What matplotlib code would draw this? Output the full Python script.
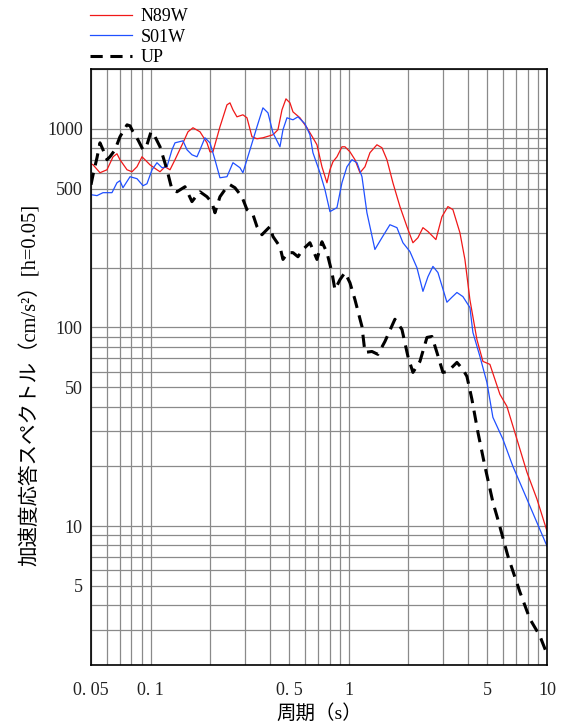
import matplotlib
matplotlib.use('Agg')
import matplotlib.pyplot as plt

plt.rcParams['font.family'] = ['Liberation Serif', 'Noto Sans CJK JP', 'DejaVu Sans']

# N89W
period_n89w = [0.050, 0.0512, 0.0555, 0.0602, 0.0646, 0.0676, 0.0700, 0.0760, 0.0805, 0.0853,
               0.0904, 0.0936, 0.0992, 0.1076, 0.1115, 0.1181, 0.1252, 0.1327, 0.1456, 0.1543,
               0.1635, 0.1774, 0.1924, 0.1992, 0.2062, 0.2237, 0.2427, 0.2513, 0.2602, 0.2725,
               0.2921, 0.3062, 0.3245, 0.3439, 0.3686, 0.4141, 0.4388, 0.4599, 0.4817, 0.5046,
               0.5225, 0.5667, 0.6148, 0.6590, 0.6905, 0.7318, 0.7755, 0.8030, 0.8316, 0.8711,
               0.9232, 0.9559, 1.013, 1.074, 1.138, 1.206, 1.278, 1.386, 1.469, 1.557,
               1.669, 1.811, 1.964, 2.106, 2.232, 2.366, 2.507, 2.751, 2.950, 3.162,
               3.351, 3.635, 3.853, 4.083, 4.429, 4.749, 5.151, 5.785, 6.275, 7.049,
               7.917, 8.894, 10.0]
acc_n89w = [667, 659, 601, 622, 723, 749, 699, 622, 608, 644,
            723, 699, 659, 622, 608, 644, 622, 699, 850, 966,
            1012, 966, 850, 766, 766, 1023, 1320, 1351, 1246, 1149,
            1176, 1136, 912, 891, 901, 933, 989, 1246, 1415, 1351,
            1217, 1136, 1012, 901, 831, 644, 535, 622, 683, 723,
            812, 812, 766, 699, 601, 644, 758, 831, 803, 699,
            535, 406, 322, 267, 283, 318, 304, 277, 361, 406,
            392, 300, 220, 138, 87.0, 67.5, 65.2, 46.1, 40.1, 27.4,
            18.7, 13.7, 9.44]

# S01W
period_s01w = [0.050, 0.0536, 0.0575, 0.0638, 0.0676, 0.0700, 0.0725, 0.0787, 0.0853, 0.0915,
               0.0958, 0.1016, 0.1076, 0.1141, 0.1209, 0.1281, 0.1327, 0.1456, 0.1526, 0.1616,
               0.1713, 0.1774, 0.1879, 0.1992, 0.2111, 0.2237, 0.2427, 0.2602, 0.2822, 0.2921,
               0.3171, 0.3439, 0.3686, 0.3908, 0.4141, 0.4493, 0.4652, 0.4873, 0.5225, 0.5537,
               0.6006, 0.6364, 0.6590, 0.7150, 0.7577, 0.8030, 0.8711, 0.9232, 0.9783, 1.037,
               1.099, 1.165, 1.234, 1.354, 1.469, 1.612, 1.749, 1.875, 2.034, 2.206,
               2.366, 2.507, 2.657, 2.816, 3.126, 3.313, 3.511, 3.764, 4.083, 4.228,
               4.586, 4.975, 5.333, 5.990, 6.729, 7.917, 10.0]
acc_s01w = [466, 461, 477, 477, 535, 548, 505, 574, 561, 517,
            529, 622, 675, 637, 644, 784, 850, 870, 784, 740,
            723, 784, 901, 850, 699, 567, 574, 675, 637, 601,
            784, 1023, 1275, 1203, 955, 812, 989, 1136, 1110, 1149,
            1060, 933, 758, 601, 494, 383, 401, 535, 644, 699,
            675, 574, 378, 247, 283, 329, 318, 267, 241, 200,
            152, 180, 203, 189, 134, 142, 150, 143, 126, 94.4,
            71.5, 52.9, 35.3, 27.4, 20.0, 13.7, 7.93]

# UP
period_up = [0.050, 0.0512, 0.0536, 0.0555, 0.0575, 0.0602, 0.0623, 0.0661, 0.0700, 0.0760,
             0.0787, 0.0814, 0.0863, 0.0915, 0.0958, 0.1004, 0.1052, 0.1115, 0.1209, 0.1281,
             0.1358, 0.1490, 0.1616, 0.1674, 0.1774, 0.1924, 0.2039, 0.2111, 0.2237, 0.2371,
             0.2513, 0.2663, 0.2888, 0.3062, 0.3283, 0.3439, 0.3644, 0.3862, 0.3999, 0.4141,
             0.4493, 0.4652, 0.4930, 0.5225, 0.5537, 0.5868, 0.6364, 0.6905, 0.7318, 0.7755,
             0.8219, 0.8510, 0.9020, 0.9559, 1.013, 1.074, 1.165, 1.206, 1.308, 1.403,
             1.521, 1.708, 1.854, 1.987, 2.106, 2.285, 2.479, 2.626, 2.783, 2.984,
             3.162, 3.511, 3.764, 3.944, 4.179, 4.481, 4.861, 5.333, 5.652, 6.348,
             7.299, 8.197, 9.207, 10.0]
acc_up = [523, 587, 715, 850, 784, 699, 723, 784, 912, 1047,
          1035, 966, 880, 784, 831, 966, 912, 812, 622, 494,
          482, 511, 430, 450, 482, 455, 425, 378, 455, 494,
          523, 505, 455, 392, 370, 322, 293, 311, 322, 287,
          255, 220, 238, 238, 227, 247, 267, 220, 270, 238,
          189, 155, 174, 189, 168, 138, 101, 74.9, 75.7, 73.2,
          85.0, 110, 97.7, 71.5, 59.4, 67.5, 89.1, 90.1, 74.9, 59.4,
          60.1, 66.7, 61.5, 56.7, 43.5, 29.7, 20.0, 13.2, 10.8, 7.07,
          4.66, 3.41, 2.80, 2.27]

x_major = [0.05, 0.1, 0.5, 1, 5, 10]
x_labels = ['0. 05', '0. 1', '0. 5', '1', '5', '10']
y_major = [5, 10, 50, 100, 500, 1000]
y_labels = ['5', '10', '50', '100', '500', '1000']

fig = plt.figure(figsize=(5.64, 7.22), dpi=100)
ax = fig.add_axes([91 / 564, 57 / 722, 456 / 564, 596 / 722])

ax.plot(period_n89w, acc_n89w, color='#f01818', lw=0.9, label='N89W')
ax.plot(period_s01w, acc_s01w, color='#2050ff', lw=0.9, label='S01W')
ax.plot(period_up, acc_up, color='black', lw=2.2, dashes=(4, 2.5), label='UP')

ax.set_xscale('log')
ax.set_yscale('log')
ax.set_xlim(0.05, 10)
ax.set_ylim(2, 2000)

x_minor = [v * d for d in (0.01, 0.1, 1) for v in range(1, 10)]
x_minor = [v for v in x_minor if 0.05 < v < 10 and round(v, 4) not in x_major]
y_minor = [v * d for d in (1, 10, 100, 1000) for v in range(1, 10)]
y_minor = [v for v in y_minor if 2 <= v <= 2000 and v not in y_major]

ax.set_xticks(x_major)
ax.set_xticklabels(x_labels)
ax.set_xticks(x_minor, minor=True)
ax.set_yticks(y_major)
ax.set_yticklabels(y_labels)
ax.set_yticks(y_minor, minor=True)
ax.tick_params(which='both', length=0, labelsize=13, colors='#222222')
ax.tick_params(axis='x', pad=12)
ax.tick_params(axis='y', pad=6)
ax.grid(True, which='both', color='#8a8a8a', lw=0.9)
ax.set_axisbelow(True)
for s in ax.spines.values():
    s.set_linewidth(1.2)

ax.set_xlabel('周期（s）', fontsize=14, labelpad=4)
fig.text(30 / 564, 1 - 385 / 722, '加速度応答スペクトル（cm/s²）[h=0.05]',
         rotation=90, ha='center', va='center', fontsize=14.8)

fig.legend(loc='upper left', bbox_to_anchor=(90 / 564, 1 - 8 / 722), frameon=False,
           fontsize=13, handlelength=2.3, handletextpad=0.5, labelspacing=0.2,
           borderaxespad=0, borderpad=0)

fig.savefig('out.png', dpi=100)
